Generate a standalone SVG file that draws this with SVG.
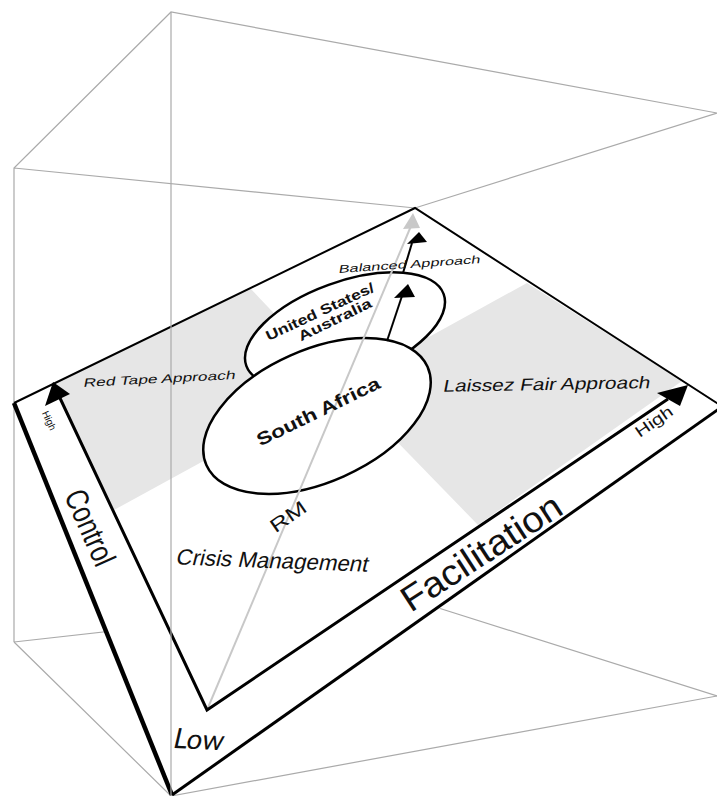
<svg xmlns="http://www.w3.org/2000/svg" width="717" height="796" viewBox="0 0 717 796">
<style>
.box{stroke:#aaa;stroke-width:1.2;fill:none}
.t{font-family:"Liberation Sans",Arial,sans-serif;fill:#111;text-anchor:middle}
.b{font-weight:bold}
.ax{stroke:#000;fill:none;stroke-linejoin:miter}
.q{fill:#e6e6e6}
.ell{fill:#fff;stroke:#000;stroke-width:2.5}
.cn{stroke:#000;stroke-width:2;fill:none}
</style>
<rect width="717" height="796" fill="#fff"/>
<g id="box">
<polyline class="box" points="14,642 14,168 171,12 717,113 415,208 14,168"/>
<polyline class="box" points="14,642 171,796 717,696"/>
<polyline class="box" points="14,642 407,598 717,696"/>
<line class="box" x1="415" y1="208" x2="407" y2="598"/>
</g>
<polygon id="board" points="14,403 415,208 722,412 172,795" fill="#fff"/>
<g id="quadrants">
<polygon class="q" points="114,510 54,384 250,288 342,385"/>
<polygon class="q" points="342,385 527,283 682,381 478,525"/>
</g>
<g id="us-australia">
<ellipse class="ell" cx="345" cy="330" rx="105" ry="48" transform="rotate(-20 345 330)"/>
</g>
<g id="south-africa">
<ellipse class="ell" cx="317" cy="416" rx="121" ry="66" transform="rotate(-24 317 416)"/>
</g>
<g id="connectors">
<line x1="207" y1="710" x2="411" y2="226" stroke="#c8c8c8" stroke-width="2"/>
<polygon points="413,213 403,229 420,228" fill="#c8c8c8"/>
<line class="cn" x1="387" y1="341" x2="402" y2="296"/>
<polygon points="408,284 394,298 415,297" fill="#000"/>
<line class="cn" x1="403" y1="273" x2="412" y2="243"/>
<polygon points="419,232 407,244 427,242" fill="#000"/>
</g>
<g id="axes">
<polyline class="ax" stroke-width="2" points="14,403 415,208 740,418"/>
<line class="ax" stroke-width="4.5" x1="14" y1="403" x2="172" y2="795"/>
<line class="ax" stroke-width="3" x1="172" y1="795" x2="740" y2="394"/>
<polyline class="ax" stroke-width="3" points="59,396 207,710 668,399"/>
<polygon points="53,382 70,394 45,406" fill="#000"/>
<polygon points="688,385 680,406 657,393" fill="#000"/>
</g>
<line class="box" x1="171" y1="12" x2="171" y2="796"/>
<g id="labels">
<text class="t" font-size="12" textLength="152" lengthAdjust="spacingAndGlyphs" transform="translate(159,383) rotate(-3) skewX(-14)">Red Tape Approach</text>
<text class="t" font-size="11" textLength="142" lengthAdjust="spacingAndGlyphs" transform="translate(409,268) rotate(-4) skewX(-14)">Balanced Approach</text>
<text class="t" font-size="17" textLength="207" lengthAdjust="spacingAndGlyphs" transform="translate(546,390) rotate(-1) skewX(-12)">Laissez Fair Approach</text>
<text class="t" font-size="22" textLength="192" lengthAdjust="spacingAndGlyphs" transform="translate(271,568) rotate(2.2) skewX(-12)">Crisis Management</text>
<text class="t" font-size="19" textLength="40" lengthAdjust="spacingAndGlyphs" transform="translate(292,522) rotate(-35)">RM</text>
<text class="t b" font-size="18" textLength="135" lengthAdjust="spacingAndGlyphs" transform="translate(321,417) rotate(-26)">South Africa</text>
<text class="t b" font-size="14" textLength="118" lengthAdjust="spacingAndGlyphs" transform="translate(322,316) rotate(-25)">United States/</text>
<text class="t b" font-size="14" textLength="80" lengthAdjust="spacingAndGlyphs" transform="translate(337,324) rotate(-26)">Australia</text>
<text class="t" font-size="32" textLength="80" lengthAdjust="spacingAndGlyphs" transform="translate(80,532) rotate(66)">Control</text>
<text class="t" font-size="10" textLength="20" lengthAdjust="spacingAndGlyphs" transform="translate(46,422) rotate(65)">High</text>
<text class="t" font-size="36" textLength="184" lengthAdjust="spacingAndGlyphs" transform="translate(488,563) rotate(-33)">Facilitation</text>
<text class="t" font-size="16" textLength="42" lengthAdjust="spacingAndGlyphs" transform="translate(657,426) rotate(-35)">High</text>
<text class="t" font-size="28" textLength="50" lengthAdjust="spacingAndGlyphs" style="font-family:Lato,'Liberation Sans',sans-serif" transform="translate(197,749) rotate(3) skewX(-10)">Low</text>
</g>
</svg>
